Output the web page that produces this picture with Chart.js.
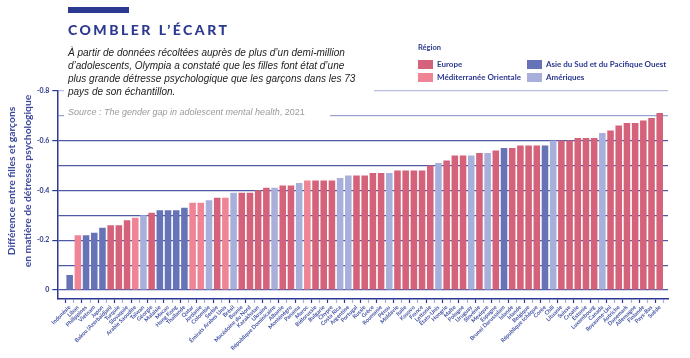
<!DOCTYPE html>
<html lang="fr">
<head>
<meta charset="utf-8">
<script src="https://cdn.jsdelivr.net/npm/chart.js@4.4.1/dist/chart.umd.min.js"></script>
<style>
  html, body { margin: 0; padding: 0; background: #fff; }
  #wrap { position: relative; width: 690px; height: 358px; overflow: hidden; font-family: "Lato", "DejaVu Sans", sans-serif; }
  #c { position: absolute; left: 0; top: 0; }
  .topbar { position: absolute; left: 68px; top: 7px; width: 61px; height: 6px; background: #2b3990; }
  .title { position: absolute; left: 68px; top: 21px; font: 900 14px "Lato", sans-serif; letter-spacing: 2.5px; color: #2b3990; white-space: nowrap; }
  .textbox { position: absolute; left: 64px; top: 40px; width: 310px; height: 57px; background: #fff; }
  .textbox2 { position: absolute; left: 64px; top: 96px; width: 266px; height: 24px; background: #fff; }
  .sub { position: absolute; left: 68px; top: 45.5px; font: italic 10px "Liberation Sans", Arial, sans-serif; line-height: 13.3px; color: #222; white-space: nowrap; }
  .src { position: absolute; left: 68px; top: 106.5px; font: 9px "Liberation Sans", Arial, sans-serif; color: #9a9a9a; white-space: nowrap; }
  .legend { position: absolute; left: 418px; top: 43px; font: 700 8px "Lato", sans-serif; color: #2b3990; }
  .legend .head { position: absolute; left: 0; top: 0; font-size: 7.5px; white-space: nowrap; }
  .legend .item { position: absolute; white-space: nowrap; line-height: 9px; }
  .legend .sw { display: inline-block; width: 15px; height: 9px; vertical-align: top; margin-right: 4px; }
  .ytitle { position: absolute; left: 19px; top: 181px; width: 240px; transform: translate(-50%, -50%) rotate(-90deg); text-align: center; font: 700 10.3px "Lato", sans-serif; line-height: 16px; color: #3a479c; white-space: nowrap; }
</style>
</head>
<body>
<div id="wrap">
  <canvas id="c" width="690" height="358"></canvas>
  <div class="topbar"></div>
  <div class="title">COMBLER L’ÉCART</div>
  <div class="textbox"></div>
  <div class="textbox2"></div>
  <div class="sub">À partir de données récoltées auprès de plus d’un demi-million<br>d’adolescents, Olympia a constaté que les filles font état d’une<br>plus grande détresse psychologique que les garçons dans les 73<br>pays de son échantillon.</div>
  <div class="src"><i>Source : The gender gap in adolescent mental health</i>, 2021</div>
  <div class="legend" id="legend"><div class="head">Région</div></div>
  <div class="ytitle">Différence entre filles et garçons<br>en matière de détresse psychologique</div>
</div>
<script>
// ---- DATA ----
const categories = ["Indonésie","Liban","Philippines","Vietnam","Japon","Bakou (Azerbaïdjan)","Turquie","Slovaquie","Arabie Saoudite","Taïwan",
  "Géorgie","Malaisie","Macao","Hong Kong","Thaïlande","Qatar","Jordanie","Colombie","Serbie","Émirats Arabes Unis",
  "Brésil","Bosnie","Macédoine du Nord","Kazakhstan","Ukraine","République Dominicaine","Albanie","Monténégro","Panama","Maroc",
  "Biélorussie","Bulgarie","Chypre","Costa Rica","Argentine","Portugal","Russie","Grèce","Roumanie","Pérou",
  "Moldavie","Italie","Kosovo","France","Lettonie","États-Unis","Hongrie","Malte","Pologne","Uruguay",
  "Slovénie","Mexique","Espagne","Brunei Darussalam","Islande","Irlande","Belgique","République tchèque","Corée","Chili",
  "Lituanie","Suisse","Croatie","Estonie","Luxembourg","Canada","Royaume-Uni","Autriche","Danemark","Allemagne",
  "Finlande","Pays-Bas","Suède"];
const values = [0.06,0.22,0.22,0.23,0.25,0.26,0.26,0.28,0.29,0.30,
  0.31,0.32,0.32,0.32,0.33,0.35,0.35,0.36,0.37,0.37,
  0.39,0.39,0.39,0.40,0.41,0.41,0.42,0.42,0.43,0.44,
  0.44,0.44,0.44,0.45,0.46,0.46,0.46,0.47,0.47,0.47,
  0.48,0.48,0.48,0.48,0.50,0.51,0.52,0.54,0.54,0.54,
  0.55,0.55,0.56,0.57,0.57,0.58,0.58,0.58,0.58,0.60,
  0.60,0.60,0.61,0.61,0.61,0.63,0.64,0.66,0.67,0.67,
  0.68,0.69,0.71];
const regions = ["A","M","A","A","A","E","E","E","M","AM",
  "E","A","A","A","A","M","M","AM","E","M",
  "AM","E","E","E","E","AM","E","E","AM","M",
  "E","E","E","AM","AM","E","E","E","E","AM",
  "E","E","E","E","E","AM","E","E","E","AM",
  "E","AM","E","A","E","E","E","E","A","AM",
  "E","E","E","E","E","AM","E","E","E","E",
  "E","E","E"];
const regionKeys = ["E","M","A","AM"];
const regionNames = ["Europe","Méditerranée Orientale","Asie du Sud et du Pacifique Ouest","Amériques"];
const yTickValues = [0,0.1,0.2,0.3,0.4,0.5,0.6,0.7,0.8];

// ---- STYLE ----
const regionColors = { E: "#d3627a", M: "#ee8494", A: "#6673b7", AM: "#a8afda" };
const legendPos = { E: [0, 17], M: [0, 30], A: [109, 17], AM: [109, 30] };
const navy = "#2b3990";

// legend
const lg = document.getElementById("legend");
regionKeys.forEach((k, i) => {
  const d = document.createElement("div");
  d.className = "item";
  d.style.left = legendPos[k][0] + "px";
  d.style.top = legendPos[k][1] + "px";
  d.innerHTML = '<span class="sw" style="background:' + regionColors[k] + '"></span>' + regionNames[i];
  lg.appendChild(d);
});

const points = values.map((v, i) => ({ x: i, y: v }));

new Chart(document.getElementById("c"), {
  type: "bar",
  data: {
    datasets: [{
      data: points,
      backgroundColor: regions.map(r => regionColors[r]),
      borderWidth: 0,
      barPercentage: 0.8,
      categoryPercentage: 1.0
    }]
  },
  options: {
    responsive: false,
    animation: false,
    devicePixelRatio: 1,
    layout: { padding: { top: 90.7, left: 0, right: 22, bottom: 0 } },
    plugins: { legend: { display: false }, tooltip: { enabled: false } },
    scales: {
      x: {
        type: "linear",
        min: -1,
        max: 72.5,
        afterBuildTicks: (s) => { s.ticks = categories.map((_, i) => ({ value: i })); },
        afterFit: (s) => { s.height = 59; },
        ticks: {
          autoSkip: false,
          minRotation: 45,
          maxRotation: 45,
          padding: 1,
          font: { family: "Lato", size: 5.6, weight: "bold" },
          color: "#4453a3",
          callback: (v) => categories[v]
        },
        grid: {
          drawOnChartArea: false,
          drawTicks: true,
          tickLength: 4,
          tickColor: (ctx) => (ctx.index % 2 === 0 ? navy : "#a9b0d8"),
          tickWidth: 1.2
        },
        border: { display: true, color: navy, width: 1.5 }
      },
      y: {
        min: -0.036,
        max: 0.8,
        afterBuildTicks: (s) => { s.ticks = yTickValues.map(v => ({ value: v })); },
        afterFit: (s) => { s.width = 57.3; },
        ticks: {
          padding: 3,
          font: { family: "Lato", size: 7, weight: "bold" },
          color: navy,
          callback: (v) => {
            const r = Math.round(v * 10);
            if (r % 2 !== 0) return "";
            return r === 0 ? "0" : "-" + v.toFixed(1);
          }
        },
        grid: {
          drawTicks: true,
          tickLength: 5,
          color: (ctx) => {
            const r = Math.round(ctx.tick.value * 10);
            if (r === 8) return "#b9bfe2";
            if (r === 7) return "#9aa2cf";
            return "#4f5aa3";
          },
          tickColor: (ctx) => (Math.round(ctx.tick.value * 10) % 2 === 0 ? navy : "rgba(0,0,0,0)"),
          lineWidth: 1.2
        },
        border: { display: true, color: navy, width: 1.5 }
      }
    }
  }
});
</script>
</body>
</html>
